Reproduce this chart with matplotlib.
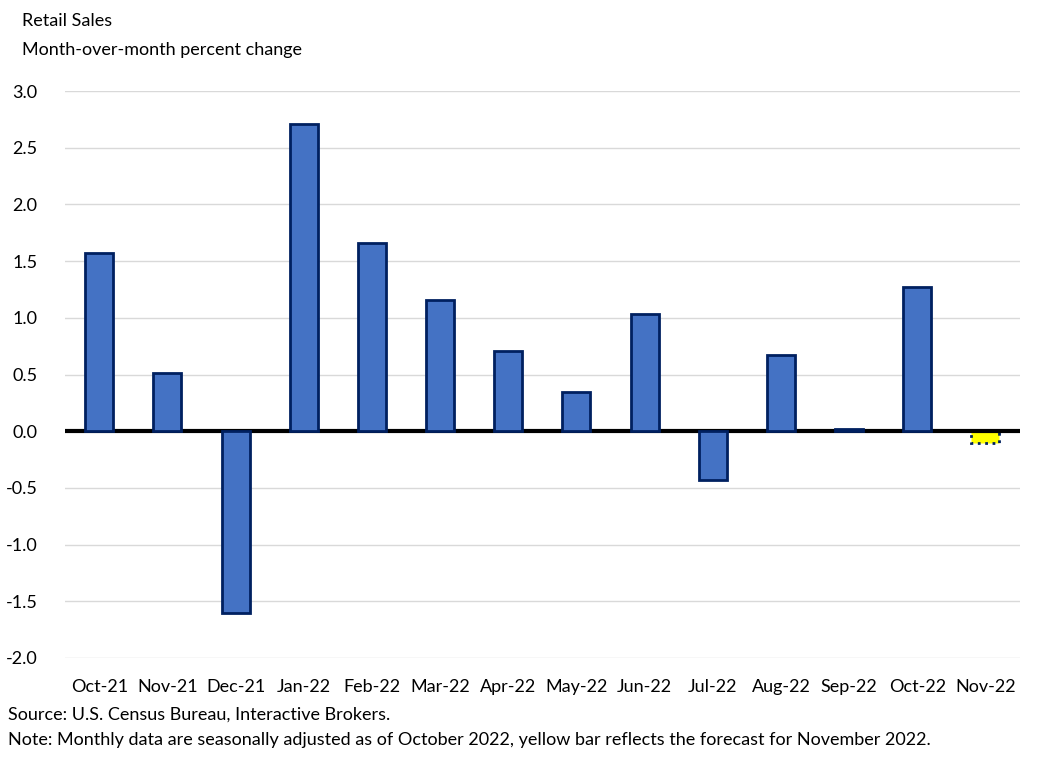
import numpy as np
import matplotlib.pyplot as plt

months = ["Oct-21", "Nov-21", "Dec-21", "Jan-22", "Feb-22", "Mar-22", "Apr-22",
          "May-22", "Jun-22", "Jul-22", "Aug-22", "Sep-22", "Oct-22", "Nov-22"]
mom_change = [1.57, 0.51, -1.60, 2.71, 1.66, 1.16, 0.71, 0.35, 1.03, -0.43, 0.67, 0.02, 1.27, -0.10]
forecast_index = 13
y_ticks = [3.0, 2.5, 2.0, 1.5, 1.0, 0.5, 0.0, -0.5, -1.0, -1.5, -2.0]

plt.rcParams['font.family'] = ['Lato', 'DejaVu Sans']

fig = plt.figure(figsize=(10.5, 7.62), dpi=100)
ax = fig.add_axes([0.062, 0.1365, 0.909, 0.744])

x = np.arange(len(months))
actual = [i for i in x if i != forecast_index]
ax.bar([x[i] for i in actual], [mom_change[i] for i in actual], width=0.41,
       color='#4472C4', edgecolor='#002060', linewidth=2, zorder=5)
ax.bar(x[forecast_index], mom_change[forecast_index], width=0.41,
       color='#FFFF00', edgecolor='#002060', linewidth=2, linestyle=':', zorder=3)

ax.axhline(0, color='black', linewidth=3, zorder=4)
ax.set_ylim(-2.0, 3.0)
ax.set_xlim(-0.5, len(months) - 0.5)
ax.set_yticks(y_ticks)
ax.set_yticklabels([f"{v:.1f}" for v in y_ticks])
ax.set_xticks(x)
ax.set_xticklabels(months)
ax.grid(axis='y', color='#D9D9D9', linewidth=1, zorder=0)
for s in ax.spines.values():
    s.set_visible(False)
ax.tick_params(axis='both', length=0, labelsize=13)
ax.tick_params(axis='y', pad=20)
ax.tick_params(axis='x', pad=15)

fig.text(0.021, 0.972, "Retail Sales", fontsize=13, va='center')
fig.text(0.021, 0.934, "Month-over-month percent change", fontsize=13, va='center')
fig.text(0.008, 0.062, "Source: U.S. Census Bureau, Interactive Brokers.", fontsize=13, va='center')
fig.text(0.008, 0.029, "Note: Monthly data are seasonally adjusted as of October 2022, yellow bar reflects the forecast for November 2022.",
         fontsize=13, va='center')

fig.savefig("out.png", dpi=100)
